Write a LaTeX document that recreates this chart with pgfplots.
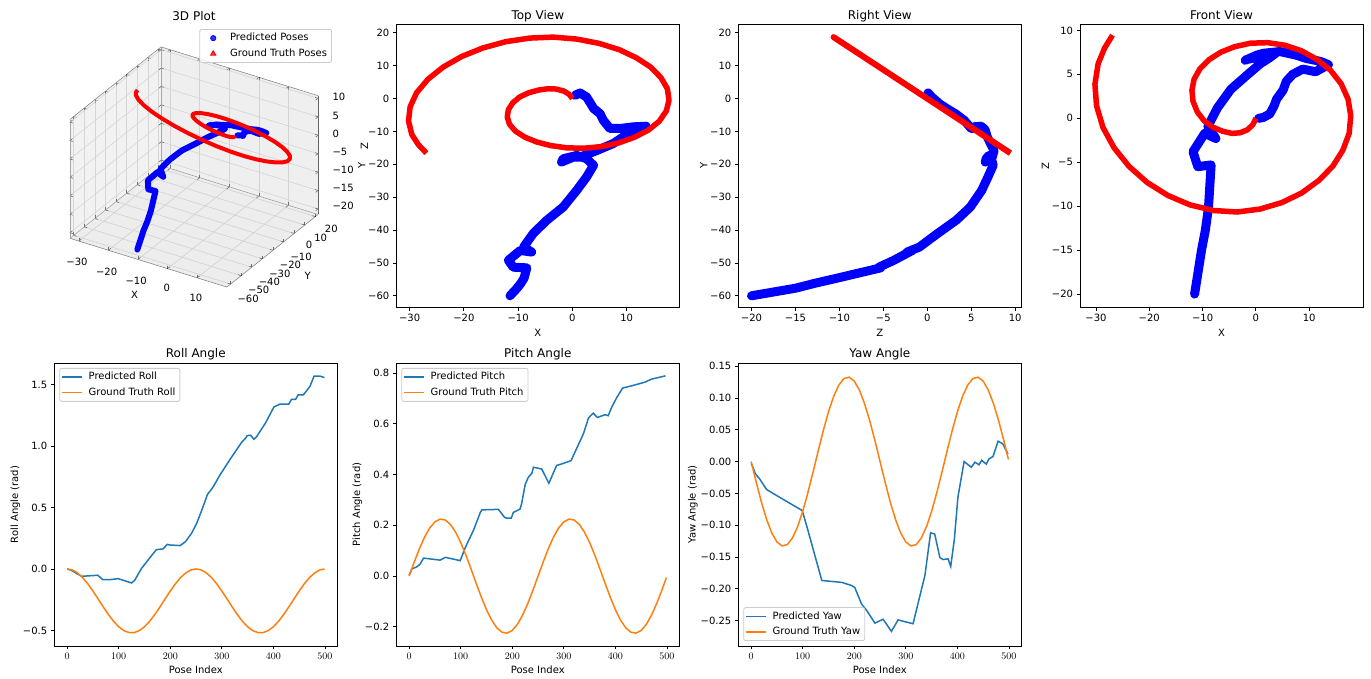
\documentclass[border=0pt]{standalone}
\usepackage{fontspec}
\setmainfont{DejaVu Sans}
\usepackage{pgfplots}
\pgfplotsset{compat=1.18}
\usepackage{pgfplotstable}

\definecolor{tabblue}{HTML}{1F77B4}
\definecolor{taborange}{HTML}{FF7F0E}

% ground truth poses (x y z)
\pgfplotstableread{
x y z
0 0 0
-0.6 1.3 -0.74
-1.6 2.3 -1.31
-3.0 2.9 -1.65
-4.5 3.0 -1.71
-6.2 2.6 -1.48
-8.0 1.8 -1.03
-9.7 0.5 -0.29
-11.0 -1.3 0.74
-11.8 -3.4 1.94
-12.0 -5.6 3.19
-11.6 -7.8 4.45
-10.5 -9.9 5.64
-8.8 -11.7 6.67
-6.6 -13.2 7.52
-4.0 -14.3 8.15
-1.0 -15.0 8.55
2.2 -15.1 8.61
5.4 -14.6 8.32
8.5 -13.5 7.70
11.4 -11.8 6.73
14.0 -9.6 5.47
16.0 -6.9 3.93
17.3 -3.8 2.17
17.8 -0.5 0.29
17.5 3.0 -1.71
16.3 6.4 -3.65
14.4 9.6 -5.47
11.8 12.4 -7.07
8.6 14.9 -8.49
4.9 16.8 -9.58
0.8 18.1 -10.32
-3.5 18.7 -10.66
-7.9 18.4 -10.49
-12.3 17.3 -9.86
-16.5 15.4 -8.78
-20.4 12.8 -7.30
-23.8 9.6 -5.47
-26.6 5.9 -3.36
-28.7 1.8 -1.03
-29.9 -2.5 1.43
-30.2 -6.8 3.88
-29.6 -10.9 6.21
-28.4 -14.0 7.98
-26.9 -16.6 9.46
}\gttable

% predicted poses (x y z)
\pgfplotstableread{
x y z
0.5 1.0 0.0
1.4 1.7 0.1
2.6 0.5 0.5
3.4 -1.6 1.4
3.9 -3.0 2.2
5.1 -4.6 3.2
5.7 -6.6 4.2
6.9 -9.1 5.0
8.8 -9.1 5.6
11.2 -8.6 5.3
13.6 -8.4 6.1
12.5 -9.0 6.4
11.2 -9.6 6.6
9.5 -11.5 6.8
7.5 -13.7 7.2
4.5 -15.8 7.6
1.4 -17.8 7.4
0.2 -17.8 7.2
-2.0 -19.3 6.6
-1.7 -18.3 6.7
0.8 -17.3 7.0
2.6 -18.3 7.3
3.9 -20.3 7.5
2.6 -23.9 6.9
0.8 -27.9 6.2
-1.7 -33.0 4.9
-4.7 -37.0 3.3
-7.2 -41.0 1.2
-9.0 -45.2 -0.9
-7.5 -46.7 -2.3
-9.6 -46.2 -1.7
-11.8 -49.2 -3.8
-10.9 -51.3 -5.5
-8.4 -51.5 -5.3
-8.9 -54.6 -10.2
-9.5 -56.2 -12.8
-10.2 -57.7 -15.0
-11.5 -60.0 -20.0
}\predtable

% ground truth angles
\pgfplotstableread{
i roll pitch yaw
0 0 0 0
10 -0.0082 0.0560 -0.0331
20 -0.0322 0.1084 -0.0641
30 -0.0705 0.1540 -0.0910
40 -0.1207 0.1900 -0.1123
50 -0.1797 0.2140 -0.1265
60 -0.2437 0.2246 -0.1327
70 -0.3087 0.2210 -0.1306
80 -0.3707 0.2036 -0.1203
90 -0.4257 0.1734 -0.1025
100 -0.4703 0.1323 -0.0782
110 -0.5017 0.0828 -0.0490
120 -0.5179 0.0282 -0.0167
130 -0.5179 -0.0282 0.0167
140 -0.5017 -0.0828 0.0490
150 -0.4703 -0.1323 0.0782
160 -0.4257 -0.1734 0.1025
170 -0.3707 -0.2036 0.1203
180 -0.3087 -0.2210 0.1306
190 -0.2437 -0.2246 0.1327
200 -0.1797 -0.2140 0.1265
210 -0.1207 -0.1900 0.1123
220 -0.0705 -0.1540 0.0910
230 -0.0322 -0.1084 0.0641
240 -0.0082 -0.0560 0.0331
250 0 0 0
260 -0.0082 0.0560 -0.0331
270 -0.0322 0.1084 -0.0641
280 -0.0705 0.1540 -0.0910
290 -0.1207 0.1900 -0.1123
300 -0.1797 0.2140 -0.1265
310 -0.2437 0.2246 -0.1327
320 -0.3087 0.2210 -0.1306
330 -0.3707 0.2036 -0.1203
340 -0.4257 0.1734 -0.1025
350 -0.4703 0.1323 -0.0782
360 -0.5017 0.0828 -0.0490
370 -0.5179 0.0282 -0.0167
380 -0.5179 -0.0282 0.0167
390 -0.5017 -0.0828 0.0490
400 -0.4703 -0.1323 0.0782
410 -0.4257 -0.1734 0.1025
420 -0.3707 -0.2036 0.1203
430 -0.3087 -0.2210 0.1306
440 -0.2437 -0.2246 0.1327
450 -0.1797 -0.2140 0.1265
460 -0.1207 -0.1900 0.1123
470 -0.0705 -0.1540 0.0910
480 -0.0322 -0.1084 0.0641
490 -0.0082 -0.0560 0.0331
499 -0.0001 -0.0057 0.0033
}\gtangles

\pgfplotstableread{
i v
0 0.000
8 -0.011
28 -0.060
57 -0.052
59 -0.050
69 -0.087
83 -0.087
99 -0.079
125 -0.114
131 -0.092
144 0.003
159 0.084
173 0.157
186 0.163
194 0.200
199 0.195
219 0.190
229 0.220
241 0.288
251 0.369
261 0.477
272 0.605
283 0.667
296 0.762
316 0.892
338 1.028
347 1.069
349 1.085
356 1.088
362 1.055
367 1.074
384 1.183
401 1.318
413 1.342
430 1.342
435 1.380
443 1.380
448 1.416
458 1.416
471 1.486
479 1.570
490 1.570
499 1.557
}\predroll

\pgfplotstableread{
i v
0 0.004
5 0.028
15 0.037
21 0.047
28 0.071
60 0.063
70 0.074
99 0.061
109 0.113
125 0.182
138 0.251
141 0.261
173 0.263
185 0.232
189 0.228
198 0.228
202 0.251
215 0.264
218 0.284
225 0.361
231 0.389
238 0.405
241 0.429
257 0.422
271 0.366
286 0.436
296 0.442
314 0.455
338 0.561
348 0.624
357 0.642
365 0.625
380 0.636
386 0.632
393 0.666
403 0.705
414 0.741
432 0.750
457 0.764
470 0.776
497 0.789
}\predpitch

\pgfplotstableread{
i v
0 -0.003
3 -0.008
8 -0.019
17 -0.028
30 -0.044
59 -0.058
99 -0.077
108 -0.102
137 -0.187
176 -0.190
195 -0.195
201 -0.198
214 -0.224
224 -0.234
240 -0.254
256 -0.248
272 -0.267
285 -0.249
314 -0.255
337 -0.179
348 -0.112
356 -0.114
366 -0.151
372 -0.154
382 -0.153
387 -0.165
394 -0.123
401 -0.056
413 0.000
427 -0.009
434 -0.001
442 -0.005
447 0.002
456 -0.004
461 0.004
469 0.008
479 0.032
488 0.028
498 0.012
}\predyaw

\pgfplotsset{
  mpl/.style={
    scale only axis, width=283pt, height=283pt, anchor=south west,
    axis line style={line width=0.8pt, black},
    every tick/.style={black, line width=0.8pt},
    tick align=outside, major tick length=3.5pt, tick pos=left,
    tick label style={font=\fontsize{10}{12}\selectfont},
    label style={font=\fontsize{10}{12}\selectfont},
    ylabel shift=-4pt,
    every axis title/.style={font=\fontsize{12}{14}\selectfont, at={(0.5,1)}, anchor=base, yshift=5pt},
    legend cell align=left,
    legend style={font=\fontsize{10}{12}\selectfont, draw=black!20, line width=0.8pt,
      rounded corners=2pt, fill=white, fill opacity=0.8, text opacity=1,
      inner xsep=2pt, inner ysep=1pt, row sep=0pt,
      nodes={inner sep=2.5pt, text height=8pt, text depth=2.5pt}},
    legend image code/.code={\draw[#1, line width=1.5pt] (0pt,0pt) -- (20pt,0pt); \path (23pt,0pt);},
  },
  pose/.style={mpl, xtick={0,100,200,300,400,500}, xmin=-24.95, xmax=523.95, xlabel={Pose Index}},
  markleg/.style={legend image code/.code={\draw[##1] plot coordinates {(11pt,0pt)}; \path (0pt,0pt) (25pt,0pt);}},
}

\begin{document}
\begin{tikzpicture}
\path[use as bounding box] (0,0) rectangle (1371pt,679pt);

% ---------------- 3D plot ----------------
\begin{axis}[
  at={(70pt,392pt)}, anchor=south west,
  view={32}{30}, plot box ratio=1 0.93 0.745,
  scale only axis, width=248pt, height=240pt,
  xmin=-33, xmax=20, ymin=-63.5, ymax=22.6, zmin=-21.5, zmax=10.7,
  xtick={-30,-20,-10,0,10}, xticklabels={−30,−20,−10,0,10},
  ytick={-60,-50,-40,-30,-20,-10,0,10,20}, yticklabels={−60,−50,−40,−30,−20,−10,0,10,20},
  ztick={-20,-15,-10,-5,0,5,10}, zticklabels={−20,−15,−10,−5,0,5,10},
  zticklabel pos=right,
  grid=major, grid style={black!22, line width=0.6pt},
  axis line style={black!60, line width=0.6pt},
  every tick/.style={black, line width=0.6pt}, major tick length=3pt,
  clip=false,
  xlabel={X}, ylabel={Y}, zlabel={Z},
  tick label style={font=\fontsize{10}{12}\selectfont},
  label style={font=\fontsize{10}{12}\selectfont},
  xticklabel style={yshift=-11pt, xshift=3pt},
  yticklabel style={xshift=9pt, yshift=-3pt},
  zticklabel style={xshift=11pt},
  xlabel style={xshift=4pt, yshift=5pt},
  ylabel style={xshift=8pt, yshift=12pt},
  title={3D Plot},
  every axis title/.style={font=\fontsize{12}{14}\selectfont, at={(0.5,1.1125)}, anchor=base},
  legend cell align=left,
  legend style={at={(1.056,1.075)}, anchor=north east,
    font=\fontsize{10}{12}\selectfont, draw=black!20, line width=0.8pt,
    rounded corners=2pt, fill=white, fill opacity=0.8, text opacity=1,
    inner xsep=2pt, inner ysep=1pt, row sep=0pt,
    nodes={inner sep=2.5pt, text height=8pt, text depth=2.5pt}},
]
\addplot3[fill=black!14, fill opacity=0.5, draw=none, forget plot] coordinates {
 (-33,-63.5,-21.5) (20,-63.5,-21.5) (20,22.6,-21.5) (-33,22.6,-21.5) (-33,-63.5,-21.5)};
\addplot3[fill=black!10, fill opacity=0.5, draw=none, forget plot] coordinates {
 (-33,-63.5,-21.5) (-33,22.6,-21.5) (-33,22.6,10.7) (-33,-63.5,10.7) (-33,-63.5,-21.5)};
\addplot3[fill=black!12, fill opacity=0.5, draw=none, forget plot] coordinates {
 (-33,22.6,-21.5) (20,22.6,-21.5) (20,22.6,10.7) (-33,22.6,10.7) (-33,22.6,-21.5)};
\addplot3[blue, line width=6pt, line cap=round, line join=round, forget plot]
  table[x=x, y=y, z=z] {\predtable};
\addplot3[red, line width=4pt, line join=round, forget plot]
  table[x=x, y=y, z=z] {\gttable};
\addlegendimage{only marks, mark=*, blue, mark size=2.6pt, markleg}
\addlegendentry{Predicted Poses}
\addlegendimage{only marks, mark=triangle*, red, mark size=3pt, markleg}
\addlegendentry{Ground Truth Poses}
\end{axis}

% ---------------- Top View ----------------
\begin{axis}[mpl, at={(396.3pt,371.7pt)}, title={Top View},
  xmin=-32.45, xmax=19.7, ymin=-63.5, ymax=22.6,
  xtick={-30,-20,-10,0,10}, xticklabels={−30,−20,−10,0,10},
  ytick={-60,-50,-40,-30,-20,-10,0,10,20}, yticklabels={−60,−50,−40,−30,−20,−10,0,10,20},
  xlabel={X}, ylabel={Y}]
\addplot[blue, line width=9pt, line cap=round, line join=round] table[x=x, y=y] {\predtable};
\addplot[red, line width=5.5pt, line join=round] table[x=x, y=y] {\gttable};
\end{axis}

% ---------------- Right View ----------------
\begin{axis}[mpl, at={(738.3pt,371.7pt)}, title={Right View},
  xmin=-21.5, xmax=10.7, ymin=-63.5, ymax=22.6,
  xtick={-20,-15,-10,-5,0,5,10}, xticklabels={−20,−15,−10,−5,0,5,10},
  ytick={-60,-50,-40,-30,-20,-10,0,10,20}, yticklabels={−60,−50,−40,−30,−20,−10,0,10,20},
  xlabel={Z}, ylabel={Y}]
\addplot[blue, line width=9pt, line cap=round, line join=round] table[x=z, y=y] {\predtable};
\addplot[red, line width=6pt, line join=round] table[x=z, y=y] {\gttable};
\end{axis}

% ---------------- Front View ----------------
\begin{axis}[mpl, at={(1080pt,371.7pt)}, title={Front View},
  xmin=-33, xmax=20.1, ymin=-21.5, ymax=10.7,
  xtick={-30,-20,-10,0,10}, xticklabels={−30,−20,−10,0,10},
  ytick={-20,-15,-10,-5,0,5,10}, yticklabels={−20,−15,−10,−5,0,5,10},
  xlabel={X}, ylabel={Z}]
\addplot[blue, line width=9pt, line cap=round, line join=round] table[x=x, y=z] {\predtable};
\addplot[red, line width=5.5pt, line join=round] table[x=x, y=z] {\gttable};
\end{axis}

% ---------------- Roll ----------------
\begin{axis}[pose, at={(54.3pt,33pt)}, title={Roll Angle},
  ymin=-0.627, ymax=1.676,
  ytick={-0.5,0,0.5,1,1.5}, yticklabels={−0.5,0.0,0.5,1.0,1.5},
  ylabel={Roll Angle (rad)},
  legend style={at={(0,1)}, anchor=north west, xshift=5pt, yshift=-5pt}]
\addplot[tabblue, line width=1.5pt] table[x=i, y=v] {\predroll};
\addlegendentry{Predicted Roll}
\addplot[taborange, line width=1.5pt] table[x=i, y=roll] {\gtangles};
\addlegendentry{Ground Truth Roll}
\end{axis}

% ---------------- Pitch ----------------
\begin{axis}[pose, at={(396.3pt,33pt)}, title={Pitch Angle},
  ymin=-0.2753, ymax=0.8397,
  ytick={-0.2,0,0.2,0.4,0.6,0.8}, yticklabels={−0.2,0.0,0.2,0.4,0.6,0.8},
  ylabel={Pitch Angle (rad)},
  legend style={at={(0,1)}, anchor=north west, xshift=5pt, yshift=-5pt}]
\addplot[tabblue, line width=1.5pt] table[x=i, y=v] {\predpitch};
\addlegendentry{Predicted Pitch}
\addplot[taborange, line width=1.5pt] table[x=i, y=pitch] {\gtangles};
\addlegendentry{Ground Truth Pitch}
\end{axis}

% ---------------- Yaw ----------------
\begin{axis}[pose, at={(738.3pt,33pt)}, title={Yaw Angle},
  ymin=-0.290, ymax=0.155,
  ytick={-0.25,-0.2,-0.15,-0.1,-0.05,0,0.05,0.1,0.15},
  yticklabels={−0.25,−0.20,−0.15,−0.10,−0.05,0.00,0.05,0.10,0.15},
  ylabel={Yaw Angle (rad)},
  legend style={at={(0,0)}, anchor=south west, xshift=5pt, yshift=5pt}]
\addplot[tabblue, line width=1.5pt] table[x=i, y=v] {\predyaw};
\addlegendentry{Predicted Yaw}
\addplot[taborange, line width=1.5pt] table[x=i, y=yaw] {\gtangles};
\addlegendentry{Ground Truth Yaw}
\end{axis}
\end{tikzpicture}
\end{document}
